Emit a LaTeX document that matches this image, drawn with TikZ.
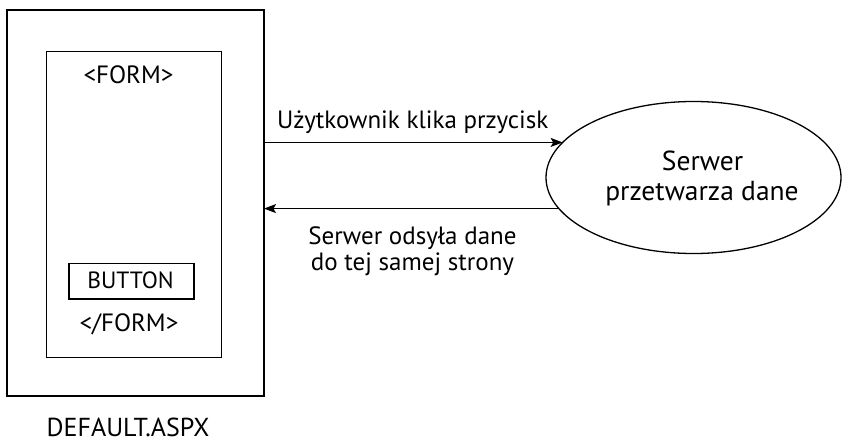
\documentclass[tikz,border=0pt]{standalone}
\usepackage{fontspec}
\setmainfont{PT Sans}
\usetikzlibrary{shapes.geometric,arrows.meta}
\begin{document}
\begin{tikzpicture}[x=1pt,y=-1pt,
  box/.style={draw,line width=1.3pt,inner sep=0pt,outer sep=0pt},
  txt/.style={inner sep=0pt,outer sep=0pt,anchor=base},
  lbl/.style={txt,font=\fontsize{25}{26}\selectfont},
  srvfont/.style={txt,font=\fontsize{27.5}{30}\selectfont},
  arr/.style={line width=1.3pt,-{Stealth[length=12pt,width=9pt,inset=2.5pt]}}]
\useasboundingbox (0,0) rectangle (842,439);
\node[box,minimum width=257pt,minimum height=386pt] (page) at (135.5,203) {};
\node[box,minimum width=175pt,minimum height=306pt] (form) at (134.2,204.2) {};
\node[box,minimum width=125pt,minimum height=35.7pt] (button) at (131.5,281.2) {};
\node[txt,font=\fontsize{23.5}{26}\selectfont] (btntxt) at (130.5,288.3) {BUTTON};
\node[txt,font=\fontsize{25}{26}\selectfont] (fo) at (128.5,83.3) {<FORM>};
\node[txt,font=\fontsize{25}{26}\selectfont] (fc) at (129,331.7) {</FORM>};
\node[txt,text depth=0pt,font=\fontsize{26}{28}\selectfont] (dflt) at (128,436) {DEFAULT.ASPX};
\node[box,ellipse,minimum width=295pt,minimum height=152pt] (srv) at (693.5,177.5) {};
\node[srvfont] (s1) at (702.5,170.5) {Serwer};
\node[srvfont] (s2) at (702,200) {przetwarza dane};
\node[lbl] (l1) at (412.7,128.3) {Użytkownik klika przycisk};
\node[lbl] (l2) at (412.5,244) {Serwer odsyła dane};
\node[lbl] (l3) at (412.5,270) {do tej samej strony};
\draw[arr] (page.east |- srv.165.95) -- (srv.165.95);
\draw[arr] (srv.193.7) -- (srv.193.7 -| page.east);
\end{tikzpicture}
\end{document}
